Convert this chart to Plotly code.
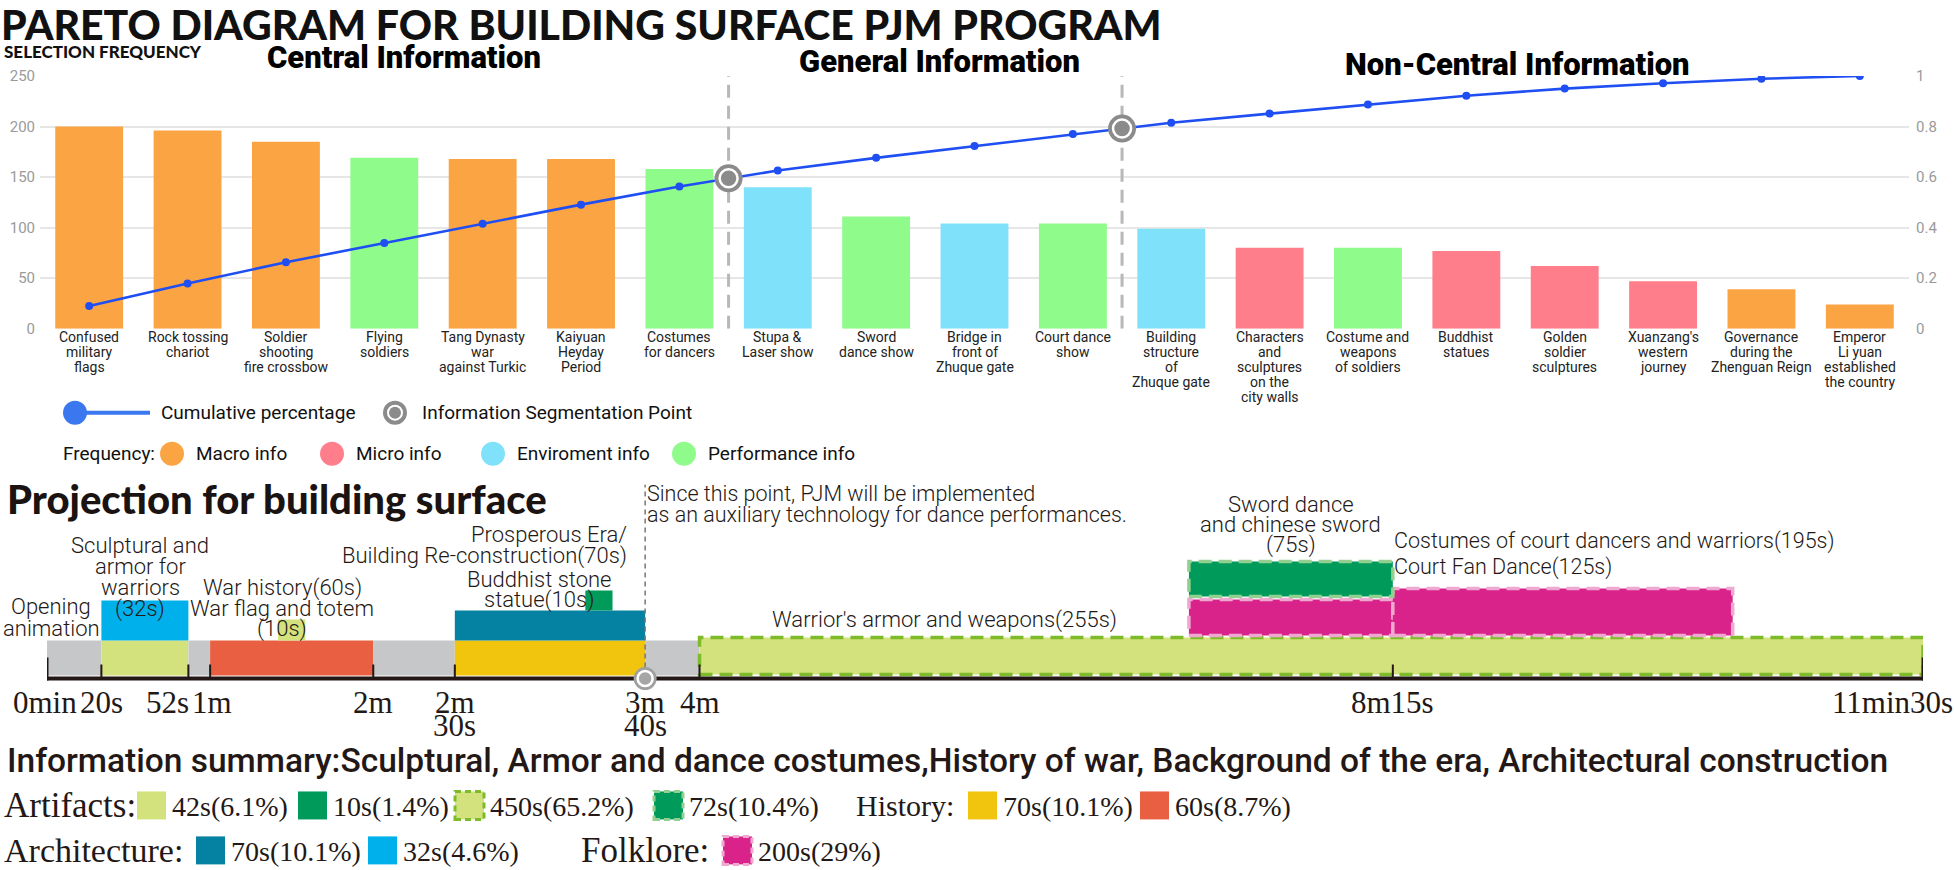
import plotly.graph_objects as go

W, H = 1954, 870

# ---------------- Pareto data ----------------
categories = [
    "Confused<br>military<br>flags",
    "Rock tossing<br>chariot",
    "Soldier<br>shooting<br>fire crossbow",
    "Flying<br>soldiers",
    "Tang Dynasty<br>war<br>against Turkic",
    "Kaiyuan<br>Heyday<br>Period",
    "Costumes<br>for dancers",
    "Stupa &<br>Laser show",
    "Sword<br>dance show",
    "Bridge in<br>front of<br>Zhuque gate",
    "Court dance<br>show",
    "Building<br>structure<br>of<br>Zhuque gate",
    "Characters<br>and<br>sculptures<br>on the<br>city walls",
    "Costume and<br>weapons<br>of soldiers",
    "Buddhist<br>statues",
    "Golden<br>soldier<br>sculptures",
    "Xuanzang's<br>western<br>journey",
    "Governance<br>during the<br>Zhenguan Reign",
    "Emperor<br>Li yuan<br>established<br>the country",
]
frequency = [200, 196, 185, 169, 168, 168, 158, 140, 111, 104, 104, 99, 80, 80, 77, 62, 47, 39, 24]
info_type = ["Macro", "Macro", "Macro", "Performance", "Macro", "Macro", "Performance",
             "Enviroment", "Performance", "Enviroment", "Performance", "Enviroment",
             "Micro", "Performance", "Micro", "Micro", "Micro", "Macro", "Macro"]
cumulative = [0.090, 0.179, 0.263, 0.339, 0.415, 0.491, 0.563, 0.626, 0.676, 0.723,
              0.770, 0.815, 0.851, 0.887, 0.922, 0.950, 0.971, 0.989, 1.000]
seg_pos = [6.5, 10.5]
seg_cum = [0.595, 0.792]
section_names = ["Central Information", "General Information", "Non-Central Information"]
left_ticks = [0, 50, 100, 150, 200, 250]
right_ticks = [0, 0.2, 0.4, 0.6, 0.8, 1]
right_ticktext = ["0", "0.2", "0.4", "0.6", "0.8", "1"]
type_keys = ["Macro", "Micro", "Enviroment", "Performance"]
type_names = ["Macro info", "Micro info", "Enviroment info", "Performance info"]

# ---------------- Timeline data (seconds) ----------------
block_start = [0, 20, 52, 60, 120, 150, 220, 240, 20, 85, 150, 198, 420, 495, 420]
block_dur = [20, 32, 8, 60, 30, 70, 20, 450, 32, 10, 70, 10, 75, 125, 75]
block_kind = ["gap", "artifact", "gap", "war", "gap", "era", "gap", "artifact_dashed",
              "sculpture", "artifact", "building", "artifact_dark", "folklore", "folklore",
              "artifact_dark_dashed"]
block_level = ["base", "base", "base", "base", "base", "base", "base", "base_wide",
               "upper_tall", "upper_small", "upper_mid", "upper_top", "dance_low",
               "dance_low_tall", "dance_high"]
time_ticks = [0, 20, 52, 60, 120, 150, 220, 240, 495, 690]
time_ticktext = ["0min", "20s", "52s", "1m", "2m", "2m<br>30s", "3m<br>40s", "4m", "8m15s", "11min30s"]
pjm_switch_time = 220
total_time = 690

summary_title = ("Information summary:Sculptural, Armor and dance costumes,History of war, "
                 "Background of the era, Architectural construction")
summary_groups = ["Artifacts:", "History:", "Architecture:", "Folklore:"]
summary_kind = ["artifact", "artifact_dark", "artifact_dashed", "artifact_dark_dashed",
                "era", "war", "building", "sculpture", "folklore_dashed"]
summary_text = ["42s(6.1%)", "10s(1.4%)", "450s(65.2%)", "72s(10.4%)",
                "70s(10.1%)", "60s(8.7%)", "70s(10.1%)", "32s(4.6%)", "200s(29%)"]

# ---------------- styles ----------------
TYPE_COLORS = {"Macro": "#fba444", "Micro": "#fe7f8b", "Enviroment": "#80e1fb", "Performance": "#8ffb8a"}
BLUE = "#1f4ff2"
SEG_GREY = "#8b8b8b"
KIND = {
    "gap": ("#c5c7c9", None),
    "artifact": ("#d3e27c", None),
    "artifact_dashed": ("#d3e27c", "#7dbb2b"),
    "artifact_dark": ("#009b5b", None),
    "artifact_dark_dashed": ("#009b5b", "#93d08f"),
    "era": ("#f1c40e", None),
    "war": ("#e95f42", None),
    "building": ("#0582a2", None),
    "sculpture": ("#00b0ea", None),
    "folklore": ("#d9238b", "#efa9d0"),
    "folklore_dashed": ("#d9238b", "#efa9d0"),
}
LEVELS = {  # px above the time axis line
    "base": (1, 36), "base_wide": (2, 39), "upper_tall": (36, 76), "upper_small": (36, 57),
    "upper_mid": (36, 66), "upper_top": (66, 86), "dance_low": (41, 77),
    "dance_low_tall": (41, 88), "dance_high": (80, 115),
}
F_TITLE = "Lato"
F_NARROW = "'Liberation Sans Narrow', 'Arial Narrow', Roboto"
F_TL = "Roboto"
F_SERIF = "'Liberation Serif', 'Times New Roman', serif"
INK = "#231815"

# vertical placement calibration of the photographed page
Y_OFF, Y_SCALE = 9.0, 0.98


def px(x):
    return x / W


def py(y):
    return 1 - (y - Y_OFF) / (Y_SCALE * H)


ann = []
shapes = []


def text(t, x, y, size, family, color=INK, xanchor="center", yanchor="middle", weight="normal",
         xref="paper", xshift=0):
    ann.append(dict(text=t, x=px(x) if xref == "paper" else x, y=py(y),
                    xref=xref, yref="paper", showarrow=False, xanchor=xanchor, yanchor=yanchor,
                    xshift=xshift, borderpad=0,
                    font=dict(size=size, family=family, color=color, weight=weight)))


def lines(items, x, y0, spacing, size, family, xanchor="center", weight=300, xref="paper", color=INK):
    for i, t in enumerate(items):
        text(t, x, y0 + i * spacing, size, family, xanchor=xanchor, weight=weight, xref=xref, color=color)


def circle(cx, cy, r, color):
    shapes.append(dict(type="circle", xref="paper", yref="paper", x0=px(cx - r), x1=px(cx + r),
                       y0=py(cy + r), y1=py(cy - r), fillcolor=color, line=dict(color=color, width=0)))


def box(x0, y0, x1, y1, kind):
    fill, border = KIND[kind]
    dashed = kind.endswith("dashed")
    shapes.append(dict(type="rect", xref="paper", yref="paper", x0=px(x0), x1=px(x1), y0=py(y1), y1=py(y0),
                       fillcolor=fill,
                       line=dict(color=border if (dashed and border) else fill, width=3 if dashed else 0,
                                 dash="6px,4px" if dashed else "solid")))


fig = go.Figure()
xs = list(range(len(categories)))

# ---- Pareto chart ----
fig.add_trace(go.Bar(x=xs, y=frequency, width=0.69,
                     marker=dict(color=[TYPE_COLORS[t] for t in info_type], line=dict(width=0)),
                     xaxis="x", yaxis="y", showlegend=False))
for sp in seg_pos:
    shapes.append(dict(type="line", xref="x", yref="y", x0=sp, x1=sp, y0=0, y1=250, layer="between",
                       line=dict(color="#b8b8b8", width=3, dash="13px,8px")))
fig.add_trace(go.Scatter(x=xs, y=cumulative, mode="lines+markers", line=dict(color=BLUE, width=2.6),
                         marker=dict(size=8, color=BLUE), xaxis="x", yaxis="y3", showlegend=False))
fig.add_trace(go.Scatter(x=seg_pos, y=seg_cum, mode="markers", marker=dict(size=28, color=SEG_GREY),
                         xaxis="x", yaxis="y3", showlegend=False))
fig.add_trace(go.Scatter(x=seg_pos, y=seg_cum, mode="markers",
                         marker=dict(size=18, color=SEG_GREY, line=dict(color="white", width=2.5)),
                         xaxis="x", yaxis="y3", showlegend=False))

# category labels (one line each, tight spacing like the reference)
for i, lab in enumerate(categories):
    for j, part in enumerate(lab.split("<br>")):
        ann.append(dict(text=part, x=i, y=py(337 + j * 15), xref="x", yref="paper", showarrow=False,
                        xanchor="center", yanchor="middle", borderpad=0,
                        font=dict(size=14, family=F_NARROW, color="#222")))

text("PARETO DIAGRAM FOR BUILDING SURFACE PJM PROGRAM", 0, 25, 41, F_TITLE, color="#111",
     xanchor="left", weight=900)
text("SELECTION FREQUENCY", 3, 52, 17, F_TITLE, color="#111", xanchor="left", weight=900)
for name, cx, cy in zip(section_names, [404, 939, 1517], [58, 62, 65]):
    text(name, cx, cy, 31, "Roboto", color="#000", weight=900)

# Pareto legend
shapes.append(dict(type="line", xref="paper", yref="paper", x0=px(75), x1=px(150), y0=py(413), y1=py(413),
                   line=dict(color="#3b78f0", width=4)))
circle(75, 413, 12, "#3b78f0")
text("Cumulative percentage", 160, 413, 19, F_NARROW, color="#111", xanchor="left")
circle(395, 413, 12, SEG_GREY)
circle(395, 413, 8, "white")
circle(395, 413, 6, SEG_GREY)
text("Information Segmentation Point", 421, 413, 19, F_NARROW, color="#111", xanchor="left")
text("Frequency:", 62, 454, 19, F_NARROW, color="#111", xanchor="left")
for key, name, cx in zip(type_keys, type_names, [172, 332, 493, 684]):
    circle(cx, 454, 12, TYPE_COLORS[key])
    text(name, cx + 23, 454, 19, F_NARROW, color="#111", xanchor="left")

# ---- Timeline ----
for s, d, k, lv in zip(block_start, block_dur, block_kind, block_level):
    fill, border = KIND[k]
    y0, y1 = LEVELS[lv]
    shapes.append(dict(type="rect", xref="x2", yref="y2", x0=s, x1=s + d, y0=y0, y1=y1, layer="between",
                       fillcolor=fill,
                       line=dict(color=border or fill, width=3.5 if border else 0,
                                 dash="13px,7px" if border else "solid")))
shapes.append(dict(type="line", xref="x2", yref="y2", x0=0, x1=total_time, y0=-2, y1=-2, layer="between",
                   line=dict(color=INK, width=4)))
for t in time_ticks:
    if t in (0, total_time):
        shapes.append(dict(type="line", xref="x2", yref="y2", x0=t, x1=t, y0=-4, y1=19, layer="between",
                           line=dict(color=INK, width=3)))
    elif t != pjm_switch_time:
        shapes.append(dict(type="line", xref="x2", yref="y2", x0=t, x1=t, y0=-2, y1=12, layer="between",
                           line=dict(color=INK, width=2)))
shapes.append(dict(type="line", xref="x2", yref="y2", x0=pjm_switch_time, x1=pjm_switch_time, y0=0, y1=192,
                   layer="between", line=dict(color="#777", width=1.5, dash="5px,4px")))
fig.add_trace(go.Scatter(x=[pjm_switch_time], y=[-2], mode="markers", marker=dict(size=23, color="#a0a0a0"),
                         xaxis="x2", yaxis="y2", showlegend=False))
fig.add_trace(go.Scatter(x=[pjm_switch_time], y=[-2], mode="markers",
                         marker=dict(size=15, color="#a6a6a6", line=dict(color="white", width=2.5)),
                         xaxis="x2", yaxis="y2", showlegend=False))

tick_shift = {0: -2, 52: -21, 60: 2, 690: -31}
for t, lab in zip(time_ticks, time_ticktext):
    for i, p in enumerate(lab.split("<br>")):
        ann.append(dict(text=p, x=t, y=py(703 + i * 23), xref="x2", yref="paper", showarrow=False,
                        xanchor="center", yanchor="middle", xshift=tick_shift.get(t, 0), borderpad=0,
                        font=dict(size=31, family=F_SERIF, color=INK)))

text("Projection for building surface", 6, 499, 40, F_TITLE, color="#1a1311", xanchor="left", weight=900)
lines(["Opening", "animation"], 51, 607, 22, 22, F_TL)
lines(["Sculptural and", "armor for", "warriors", "(32s)"], 140, 546, 21, 22, F_TL)
lines(["War history(60s)", "War flag and totem", "(10s)"], 282, 588, 20.5, 22, F_TL)
lines(["Prosperous Era/", "Building Re-construction(70s)"], 628, 535, 21, 22, F_TL, xanchor="right")
lines(["Buddhist stone", "statue(10s)"], 539, 580, 20, 22, F_TL)
lines(["Since this point, PJM will be implemented",
       "as an auxiliary technology for dance performances."], 646, 494, 21, 21.5, F_TL, xanchor="left")
lines(["Sword dance", "and chinese sword", "(75s)"], 457.5, 505, 20, 22, F_TL, xref="x2")
lines(["Costumes of court dancers and warriors(195s)", "Court Fan Dance(125s)"], 495, 541, 26, 21.5, F_TL,
      xanchor="left", xref="x2")
text("Warrior's armor and weapons(255s)", 330, 620, 22, F_TL, xref="x2", weight=300)

# ---- Summary legend ----
text(summary_title, 6, 761, 33.5, "Roboto", color=INK, xanchor="left", weight=500)
group_pos = [(3, 806), (855, 806), (3, 851), (580, 851)]
group_size = [35, 30, 34, 35]
for g, (gx, gy), gs in zip(summary_groups, group_pos, group_size):
    text(g, gx, gy, gs, F_SERIF, color=INK, xanchor="left")
item_pos = [(137, 806), (298, 806), (455, 806), (654, 806), (968, 806), (1140, 806),
            (196, 851), (368, 851), (723, 851)]
for k, lab, (bx, by) in zip(summary_kind, summary_text, item_pos):
    box(bx, by - 14, bx + 29, by + 14, k)
    text(lab, bx + 34, by + 1, 28, F_SERIF, color=INK, xanchor="left")

fig.update_layout(
    width=W, height=H, autosize=False, margin=dict(l=0, r=0, t=0, b=0, pad=0),
    paper_bgcolor="white", plot_bgcolor="white", showlegend=False,
    annotations=ann, shapes=shapes,
    xaxis=dict(domain=[40 / W, 1909 / W], range=[-0.5, 18.5], showticklabels=False,
               showgrid=False, zeroline=False, showline=False, ticks="", anchor="y"),
    yaxis=dict(domain=[py(329), py(76)], range=[0, 250], tickmode="array", tickvals=left_ticks,
               gridcolor="#e6e6e6", gridwidth=2, zeroline=False, ticks="", anchor="x",
               tickfont=dict(size=15, family=F_NARROW, color="#9a9a9a"), ticklabelstandoff=4),
    yaxis3=dict(overlaying="y", side="right", anchor="x", range=[0, 1], tickmode="array",
                tickvals=right_ticks, ticktext=right_ticktext, showgrid=False, zeroline=False, ticks="",
                tickfont=dict(size=15, family=F_NARROW, color="#9a9a9a"), ticklabelstandoff=6),
    xaxis2=dict(domain=[47 / W, 1923 / W], range=[0, total_time], visible=False, anchor="y2"),
    yaxis2=dict(domain=[py(720), py(480)], range=[-43, 197], visible=False, anchor="x2"),
)

fig.write_html("out.html", config={"displayModeBar": False, "responsive": False},
               post_script="document.body.style.margin='0';document.body.style.padding='0';"
                           "document.documentElement.style.overflow='hidden';")
